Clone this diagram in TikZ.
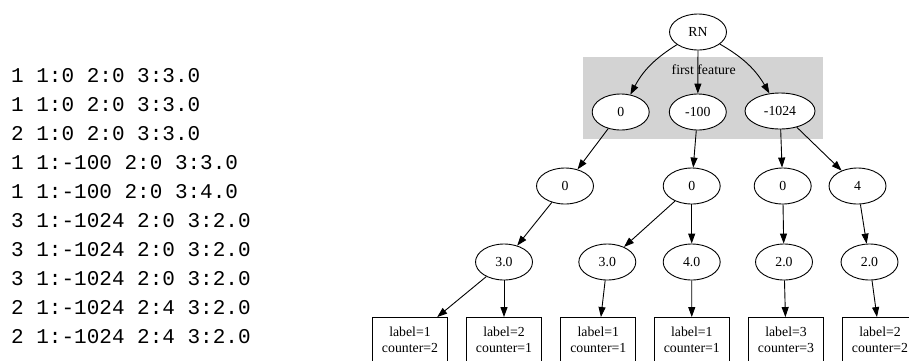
\documentclass[tikz,border=0pt]{standalone}
\usepackage{fontspec}
\setmainfont{Liberation Serif}
\newfontfamily\monofont{Liberation Mono}
\usetikzlibrary{arrows.meta,shapes.geometric}
\definecolor{boxgray}{RGB}{211,211,211}
\tikzset{
  tnode/.style={ellipse,draw,fill=white,line width=0.9pt,minimum width=57pt,minimum height=36pt,inner sep=0pt,font=\fontsize{13.8}{16}\selectfont},
  leafbox/.style={rectangle,draw,fill=white,line width=0.9pt,minimum width=75pt,minimum height=44pt,inner sep=0pt,align=center,font=\fontsize{13.8}{16}\selectfont},
  edge/.style={line width=0.9pt,-{Triangle[length=10pt,width=7pt]}},
  mono/.style={anchor=base west,inner sep=0pt,font=\monofont\fontsize{21}{25}\selectfont}
}
\begin{document}
\begin{tikzpicture}[x=1pt,y=-1pt]
\clip (0,0) rectangle (909,360);
\fill[white] (0,0) rectangle (909,360);
% left data
\node[mono] (l1) at (11,82.7) {1 1:0 2:0 3:3.0};
\node[mono] (l2) at (11,111.7) {1 1:0 2:0 3:3.0};
\node[mono] (l3) at (11,140.7) {2 1:0 2:0 3:3.0};
\node[mono] (l4) at (11,169.7) {1 1:-100 2:0 3:3.0};
\node[mono] (l5) at (11,198.7) {1 1:-100 2:0 3:4.0};
\node[mono] (l6) at (11,227.7) {3 1:-1024 2:0 3:2.0};
\node[mono] (l7) at (11,256.7) {3 1:-1024 2:0 3:2.0};
\node[mono] (l8) at (11,285.7) {3 1:-1024 2:0 3:2.0};
\node[mono] (l9) at (11,314.7) {2 1:-1024 2:4 3:2.0};
\node[mono] (l10) at (11,343.7) {2 1:-1024 2:4 3:2.0};
% cluster
\fill[boxgray] (583,57) rectangle (823,139);
\node[anchor=base,inner sep=0pt,font=\fontsize{13.8}{16}\selectfont] (ff) at (703.7,74) {first feature};
% tree
\node[tnode] (rn) at (698,32) {RN};
\node[tnode] (a0) at (620.7,112) {0};
\node[tnode] (a1) at (697.8,112) {-100};
\node[tnode,minimum width=70pt] (a2) at (780,111) {-1024};
\node[tnode] (b0) at (565,186) {0};
\node[tnode] (b1) at (691.7,186) {0};
\node[tnode] (b2) at (782.7,186) {0};
\node[tnode] (b3) at (857.5,186) {4};
\node[tnode] (c0) at (504,262) {3.0};
\node[tnode] (c1) at (607.3,262) {3.0};
\node[tnode] (c2) at (691.7,262) {4.0};
\node[tnode] (c3) at (784,262) {2.0};
\node[tnode] (c4) at (869.5,262) {2.0};
\node[leafbox] (d0) at (410,339.5) {label=1\\counter=2};
\node[leafbox] (d1) at (504,339.5) {label=2\\counter=1};
\node[leafbox] (d2) at (598.3,339.5) {label=1\\counter=1};
\node[leafbox] (d3) at (691.8,339.5) {label=1\\counter=1};
\node[leafbox] (d4) at (786,339.5) {label=3\\counter=3};
\node[leafbox] (d5) at (880,339.5) {label=2\\counter=2};
% edges
\draw[edge] (rn) to[bend right=15] (a0);
\draw[edge] (rn) -- (a1);
\draw[edge] (rn) to[bend left=15] (a2);
\draw[edge] (a0) -- (b0);
\draw[edge] (a1) -- (b1);
\draw[edge] (a2) -- (b2);
\draw[edge] (a2) -- (b3);
\draw[edge] (b0) -- (c0);
\draw[edge] (b1) -- (c1);
\draw[edge] (b1) -- (c2);
\draw[edge] (b2) -- (c3);
\draw[edge] (b3) -- (c4);
\draw[edge] (c0) -- (d0);
\draw[edge] (c0) -- (d1);
\draw[edge] (c1) -- (d2);
\draw[edge] (c2) -- (d3);
\draw[edge] (c3) -- (d4);
\draw[edge] (c4) -- (d5);
\end{tikzpicture}
\end{document}
